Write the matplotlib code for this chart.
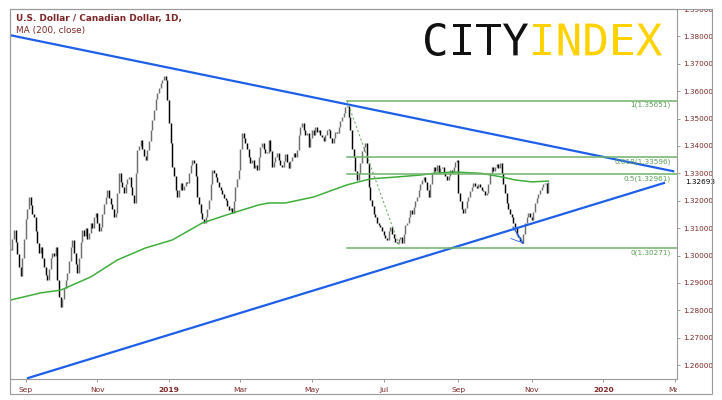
import matplotlib
matplotlib.use("Agg")
import matplotlib.pyplot as plt
import pandas as pd
from matplotlib.textpath import TextPath, TextToPath
from matplotlib.patches import PathPatch, Rectangle
from matplotlib.font_manager import FontProperties
from matplotlib.transforms import Affine2D, Bbox, TransformedBbox

# daily bars starting 2018-08-21, axis runs on trading days into early 2020
start_date = "2018-08-21"
axis_bars = 402

closes = [
    1.3020, 1.3060, 1.3095, 1.3050, 1.3005, 1.2960, 1.2925, 1.2990, 1.3060, 1.3135,
    1.3170, 1.3214, 1.3185, 1.3150, 1.3141, 1.3090, 1.3045, 1.3010, 1.3030, 1.2990,
    1.2960, 1.2930, 1.2911, 1.2950, 1.2990, 1.3010, 1.3000, 1.3031, 1.2911, 1.2850,
    1.2812, 1.2840, 1.2880, 1.2910, 1.2936, 1.2980, 1.3030, 1.3057, 1.3010, 1.2970,
    1.2936, 1.2990, 1.3050, 1.3093, 1.3070, 1.3100, 1.3060, 1.3082, 1.3120, 1.3100,
    1.3140, 1.3155, 1.3120, 1.3090, 1.3104, 1.3150, 1.3190, 1.3215, 1.3239, 1.3210,
    1.3190, 1.3170, 1.3140, 1.3155, 1.3230, 1.3301, 1.3270, 1.3250, 1.3228, 1.3260,
    1.3280, 1.3287, 1.3250, 1.3220, 1.3192, 1.3300, 1.3385, 1.3400, 1.3422, 1.3390,
    1.3365, 1.3349, 1.3385, 1.3420, 1.3460, 1.3495, 1.3530, 1.3570, 1.3593, 1.3610,
    1.3630, 1.3641, 1.3655, 1.3641, 1.3568, 1.3484, 1.3410, 1.3323, 1.3290, 1.3239,
    1.3214, 1.3240, 1.3265, 1.3240, 1.3255, 1.3270, 1.3265, 1.3300, 1.3330, 1.3349,
    1.3338, 1.3290, 1.3214, 1.3190, 1.3155, 1.3135, 1.3119, 1.3140, 1.3170, 1.3203,
    1.3260, 1.3312, 1.3300, 1.3287, 1.3270, 1.3250, 1.3239, 1.3225, 1.3210, 1.3203,
    1.3180, 1.3166, 1.3175, 1.3155, 1.3200, 1.3250, 1.3280, 1.3312, 1.3390, 1.3447,
    1.3430, 1.3411, 1.3390, 1.3360, 1.3338, 1.3350, 1.3320, 1.3330, 1.3312, 1.3360,
    1.3395, 1.3411, 1.3390, 1.3374, 1.3374, 1.3422, 1.3380, 1.3323, 1.3340, 1.3360,
    1.3374, 1.3350, 1.3330, 1.3323, 1.3345, 1.3370, 1.3340, 1.3320, 1.3345, 1.3360,
    1.3375, 1.3360, 1.3385, 1.3440, 1.3470, 1.3484, 1.3460, 1.3440, 1.3447, 1.3396,
    1.3430, 1.3458, 1.3440, 1.3470, 1.3450, 1.3458, 1.3440, 1.3433, 1.3420, 1.3440,
    1.3460, 1.3458, 1.3430, 1.3411, 1.3430, 1.3450, 1.3447, 1.3470, 1.3490, 1.3506,
    1.3520, 1.3542, 1.3545, 1.3506, 1.3460, 1.3390, 1.3360, 1.3310, 1.3276, 1.3300,
    1.3338, 1.3380, 1.3396, 1.3411, 1.3338, 1.3250, 1.3203, 1.3180, 1.3150, 1.3141,
    1.3120, 1.3110, 1.3104, 1.3090, 1.3075, 1.3065, 1.3057, 1.3090, 1.3104, 1.3080,
    1.3065, 1.3050, 1.3046, 1.3060, 1.3068, 1.3046, 1.3080, 1.3110, 1.3119, 1.3141,
    1.3165, 1.3150, 1.3177, 1.3200, 1.3214, 1.3240, 1.3260, 1.3275, 1.3287, 1.3270,
    1.3240, 1.3214, 1.3260, 1.3300, 1.3323, 1.3310, 1.3330, 1.3300, 1.3320, 1.3323,
    1.3300, 1.3290, 1.3276, 1.3290, 1.3312, 1.3300, 1.3325, 1.3340, 1.3349, 1.3228,
    1.3200, 1.3170, 1.3155, 1.3175, 1.3200, 1.3214, 1.3235, 1.3250, 1.3265, 1.3255,
    1.3245, 1.3260, 1.3250, 1.3240, 1.3235, 1.3220, 1.3228, 1.3260, 1.3300, 1.3323,
    1.3310, 1.3325, 1.3335, 1.3320, 1.3338, 1.3301, 1.3260, 1.3228, 1.3192, 1.3170,
    1.3150, 1.3141, 1.3120, 1.3104, 1.3075, 1.3068, 1.3055, 1.3046, 1.3080, 1.3119,
    1.3140, 1.3155, 1.3140, 1.3130, 1.3160, 1.3192, 1.3210, 1.3225, 1.3239, 1.3250,
    1.3260, 1.3265, 1.3230, 1.3269,
]
last_price = "1.32693"

# 200-day moving average
ma_idx = [0, 18, 30, 48, 64, 81, 97, 115, 133, 149, 155, 165, 182, 202,
          216, 232, 246, 255, 267, 283, 295, 303, 313, 323]
ma_val = [1.2838, 1.2864, 1.2874, 1.2922, 1.2984, 1.3028, 1.3057, 1.3119,
          1.3155, 1.3185, 1.3192, 1.3192, 1.3214, 1.3258, 1.3280, 1.3287,
          1.3294, 1.3301, 1.3305, 1.3300, 1.3287, 1.3276, 1.3269, 1.3272]

# drawn trend lines (bar index, price)
upper_idx = [0, 398]
upper_val = [1.3804, 1.3308]
lower_idx = [10.3, 392.5]
lower_val = [1.2553, 1.3265]

# fibonacci retracement
fib_ratios = ["1", "0.618", "0.5", "0"]
fib_prices = [1.35651, 1.33596, 1.32961, 1.30271]
fib_from = 202
fib_swing_idx = [202, 234]
fib_swing_val = [1.35651, 1.30271]

# small arrow at the october low
arrow_idx = [301.8, 307.8, 300.6]
arrow_val = [1.3104, 1.3046, 1.3062]

y_ticks = [1.26, 1.27, 1.28, 1.29, 1.30, 1.31, 1.32, 1.33, 1.34, 1.35, 1.36, 1.37, 1.38, 1.39]

dates = pd.bdate_range(start_date, periods=axis_bars)
month_starts = []
for i in range(1, len(dates)):
    if dates[i].month != dates[i - 1].month and dates[i].month % 2 == 1 or (dates[i].month == 9 and dates[i - 1].month == 8):
        month_starts.append(i)
month_labels = []
for i in month_starts:
    d = dates[i]
    month_labels.append(str(d.year) if d.month == 1 else d.strftime("%b"))

label_col = "#7d2626"
W, H = 722, 400
fig = plt.figure(figsize=(W / 100, H / 100), dpi=100)
ax = fig.add_axes([10 / W, 1 - 379 / H, 667 / W, 370 / H])

# candles: open = previous close
for i, c in enumerate(closes):
    o = closes[i - 1] if i > 0 else c
    col = "#6e6e6e" if c >= o else "#000000"
    lo, hi = min(o, c), max(o, c)
    if hi - lo < 0.0004:
        hi = lo + 0.0004
    ax.vlines(i, lo, hi, color=col, linewidth=1.05)

ax.plot(ma_idx, ma_val, color="#3fae3a", linewidth=1.1)

ax.plot(upper_idx, upper_val, color="#1d5fe8", linewidth=1.6)
ax.plot(lower_idx, lower_val, color="#1d5fe8", linewidth=1.6)

xmax = 400.3
for r, p in zip(fib_ratios, fib_prices):
    ax.plot([fib_from, xmax], [p, p], color="#6fb36a", linewidth=1.1)
    ax.text(396.5, p - 0.0004, f"{r}({p:.5f})", color="#5c9e57", fontsize=5.2,
            ha="right", va="top")
ax.plot(fib_swing_idx, fib_swing_val, color="#6fb36a", linewidth=0.8, linestyle=(0, (2, 2)))

ax.plot(arrow_idx[:2], arrow_val[:2], color="#1d5fe8", linewidth=0.9)
ax.plot([arrow_idx[2], arrow_idx[1]], [arrow_val[2], arrow_val[1]], color="#1d5fe8", linewidth=0.6)

ax.set_xlim(-0.5, xmax)
ax.set_ylim(1.25496, 1.39)

ax.yaxis.tick_right()
ax.set_yticks(y_ticks)
ax.set_yticklabels([f"{v:.5f}" for v in y_ticks])
ax.tick_params(axis="y", direction="out", length=2.5, width=0.6, color="#888888",
               labelsize=5.2, labelcolor=label_col, pad=2)
ax.set_xticks(month_starts)
ax.set_xticklabels(month_labels)
ax.tick_params(axis="x", direction="out", length=2.5, width=0.6, color="#888888",
               labelsize=5.4, labelcolor=label_col, pad=3)
xlbls = ax.get_xticklabels()
for lbl in xlbls:
    if lbl.get_text().isdigit():
        lbl.set_fontweight("bold")
# last month label is cut at the plot edge
xlbls[-1].set_clip_on(True)
xlbls[-1].set_clip_box(TransformedBbox(Bbox([[0, -0.2], [1, 1]]), ax.transAxes))
ylbls = ax.get_yticklabels()
ylbls[-1].set_clip_on(True)
ylbls[-1].set_clip_box(TransformedBbox(Bbox([[1, 0], [1.2, 1]]), ax.transAxes))
for s in ax.spines.values():
    s.set_color("#9a9a9a")
    s.set_linewidth(0.8)

ax.text(1.012, 1.3269, last_price, transform=ax.get_yaxis_transform(), fontsize=5.2,
        color="#000000", va="center", ha="left",
        bbox=dict(facecolor="white", edgecolor="none", pad=0.5))

ax.text(6 / 667, 1 - 10 / 370, "U.S. Dollar / Canadian Dollar, 1D,", transform=ax.transAxes,
        fontsize=6.4, fontweight="bold", color=label_col, va="center", ha="left")
ax.text(6 / 667, 1 - 22 / 370, "MA (200, close)", transform=ax.transAxes,
        fontsize=6.4, color=label_col, va="center", ha="left")

# overlay in pixel coordinates for the outer frame and the logo
ov = fig.add_axes([0, 0, 1, 1], facecolor="none")
ov.set_xlim(0, W)
ov.set_ylim(0, H)
ov.axis("off")
ov.add_patch(Rectangle((10, H - 394), 702, 385, fill=False, edgecolor="#9a9a9a", linewidth=0.8))

fp = FontProperties(family="DejaVu Sans Mono")
word = "CITYINDEX"
adv = TextToPath().get_text_width_height_descent(word, fp, ismath=False)[0] / fp.get_size_in_points() / len(word)
paths = [TextPath((k * adv, 0), ch, size=1, prop=fp) for k, ch in enumerate(word)]
full = TextPath((0, 0), word, size=1, prop=fp).get_extents()
box_x0, box_x1, box_top, box_bot = 425, 662, 23, 56
sx = (box_x1 - box_x0) / full.width
sy = (box_bot - box_top) / full.height
tr = Affine2D().translate(-full.x0, -full.y0).scale(sx, sy).translate(box_x0, H - box_bot)
for k, p in enumerate(paths):
    col = "#111111" if k < 4 else "#ffd200"
    ov.add_patch(PathPatch(tr.transform_path(p), facecolor=col, edgecolor="none"))

fig.savefig("out.png", dpi=100)
